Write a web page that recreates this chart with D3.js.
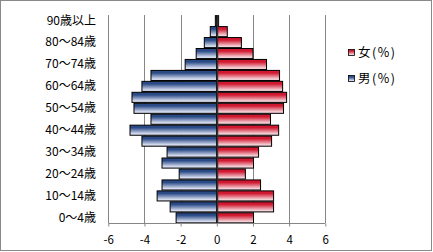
<!DOCTYPE html>
<html><head><meta charset="utf-8">
<script src="https://cdn.jsdelivr.net/npm/d3@7"></script>
<style>body{margin:0;background:#fff}svg{display:block}text{font-family:"Noto Sans CJK JP","Noto Sans",sans-serif}</style>
</head><body><svg id="c" width="433" height="252"></svg>
<script>
const ages = ["0～4歳","5～9歳","10～14歳","15～19歳","20～24歳","25～29歳","30～34歳","35～39歳","40～44歳","45～49歳","50～54歳","55～59歳","60～64歳","65～69歳","70～74歳","75～79歳","80～84歳","85～89歳","90歳以上"];
const male = [2.25,2.58,3.3,3.03,2.08,3.03,2.75,4.14,4.8,3.64,4.58,4.69,4.14,3.64,1.75,1.14,0.69,0.36,0.08];
const female = [2.03,3.14,3.14,2.42,1.58,2.03,2.31,3.03,3.42,2.97,3.69,3.86,3.64,3.47,2.75,2.0,1.36,0.58,0.1];
const xTicks = [-6,-4,-2,0,2,4,6];
const legendNames = ["女(%)","男(%)"];

const svg = d3.select("#c");
const defs = svg.append("defs");
function grad(id, dark, light){
  const g = defs.append("linearGradient").attr("id",id).attr("x1",0).attr("y1",0).attr("x2",0).attr("y2",1);
  g.append("stop").attr("offset","0%").attr("stop-color",dark);
  g.append("stop").attr("offset","25%").attr("stop-color",dark);
  g.append("stop").attr("offset","85%").attr("stop-color",light);
  g.append("stop").attr("offset","100%").attr("stop-color",light);
}
grad("gm","#2a4a86","#d6dcef");
grad("gf","#d01830","#f4d0d6");

svg.append("rect").attr("x",0.5).attr("y",0.5).attr("width",431).attr("height",250).attr("fill","#fff").attr("stroke","#8a8a8a");

const x = d3.scaleLinear().domain([-6,6]).range([108.3,325.3]);
const y = d3.scaleBand().domain(ages.slice().reverse()).range([15.2,223.3]).paddingInner(0.08).paddingOuter(0.04);

svg.append("g").selectAll("line").data(xTicks.filter(d=>d!==0)).join("line")
  .attr("x1",d=>Math.round(x(d))+0.5).attr("x2",d=>Math.round(x(d))+0.5)
  .attr("y1",15).attr("y2",223).attr("stroke","#868686");

const rows = ages.map((a,i)=>({a, m:male[i], f:female[i]}));
svg.append("g").selectAll("rect").data(rows).join("rect")
  .attr("x",d=>x(-d.m)).attr("width",d=>x(0)-x(-d.m))
  .attr("y",d=>y(d.a)).attr("height",y.bandwidth())
  .attr("fill","url(#gm)").attr("stroke","#000").attr("stroke-width",1);
svg.append("g").selectAll("rect").data(rows).join("rect")
  .attr("x",x(0)).attr("width",d=>x(d.f)-x(0))
  .attr("y",d=>y(d.a)).attr("height",y.bandwidth())
  .attr("fill","url(#gf)").attr("stroke","#000").attr("stroke-width",1);

svg.append("line").attr("x1",Math.round(x(0))+0.5).attr("x2",Math.round(x(0))+0.5).attr("y1",15).attr("y2",223)
  .attr("stroke","#333").attr("stroke-width",1.5);

const xa = svg.append("g").attr("transform","translate(0,223.5)")
  .call(d3.axisBottom(x).tickValues(xTicks).tickSize(3).tickPadding(9).tickFormat(d=>d));
xa.select(".domain").attr("stroke","#868686").attr("d","M108.3,0H325.3");
xa.selectAll(".tick line").attr("stroke","#868686");
xa.selectAll("text").attr("font-size",11.5).attr("fill","#000");

const ya = svg.append("g").attr("transform","translate(96,0)")
  .call(d3.axisLeft(y).tickValues(ages.filter((a,i)=>i%2===0)).tickSize(0).tickPadding(0));
ya.select(".domain").remove();
ya.selectAll("text").attr("font-size",12).attr("fill","#000");

const lg = svg.append("g");
legendNames.forEach((n,i)=>{
  const yy = 53 + i*26;
  lg.append("rect").attr("x",348.5).attr("y",yy-3.5).attr("width",6).attr("height",6)
    .attr("fill",i===0?"url(#gf)":"url(#gm)").attr("stroke","#000").attr("stroke-width",0.8);
  lg.append("text").attr("x",358).attr("y",yy).attr("dy","0.35em").attr("font-size",12.5).attr("letter-spacing",1.5).text(n);
});
</script></body></html>
